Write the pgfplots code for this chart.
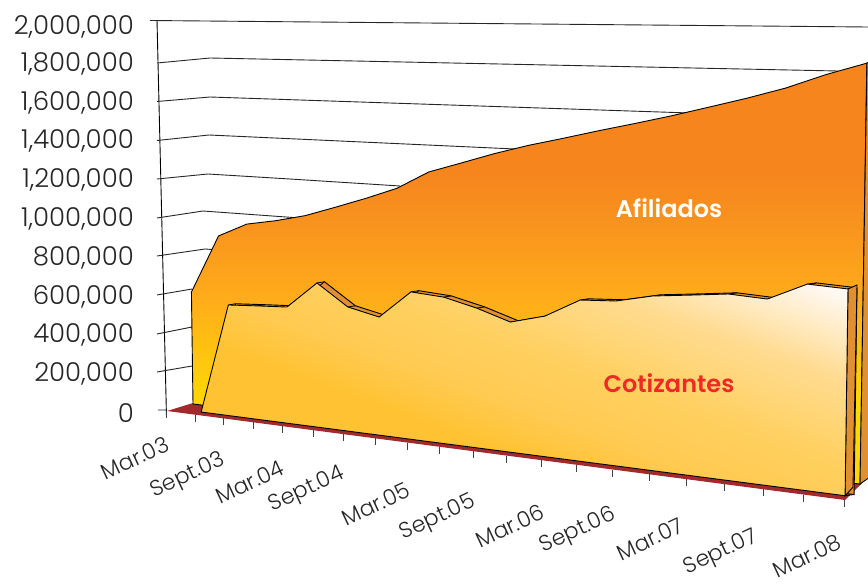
\documentclass[border=0pt]{standalone}
\usepackage{pgfplots}
\pgfplotsset{compat=1.18}
\usepackage{pgfplotstable}
\usepackage{fontspec}
\setmainfont{Poppins}[UprightFont=* Light, BoldFont=* SemiBold]
\definecolor{af1}{HTML}{FFD800}
\definecolor{af2}{HTML}{FFCE0A}
\definecolor{af3}{HTML}{FFA91B}
\definecolor{af4}{HTML}{F8931E}
\definecolor{af5}{HTML}{F6851E}
\definecolor{co1}{HTML}{FFC232}
\definecolor{co2}{HTML}{FFCA50}
\definecolor{co3}{HTML}{FFD060}
\definecolor{co4}{HTML}{FFDB90}
\definecolor{co5}{HTML}{FFF8F0}
\definecolor{strip}{HTML}{E09030}
\definecolor{floorc}{HTML}{A32A2C}
\pgfdeclareverticalshading{afil}{100bp}{color(0bp)=(af1); color(34bp)=(af1); color(37.5bp)=(af2); color(48bp)=(af3); color(56bp)=(af4); color(62bp)=(af5); color(100bp)=(af5)}
\pgfdeclareverticalshading{coti}{100bp}{color(0bp)=(co1); color(40bp)=(co1); color(47bp)=(co2); color(56bp)=(co3); color(68bp)=(co4); color(80bp)=(co5); color(100bp)=(co5)}
% projection of (t = quarters since Mar.03, value) onto the drawing
\newcommand\XT{((26.46*\thisrow{t}+167)/(1-0.00876*\thisrow{t}))}
\newcommand\XA{(\XT+26-0.5*\thisrow{t})}
\newcommand\HA{(\thisrow{v}*(1.91e-4+2.2e-6*\thisrow{t}))}
\newcommand\XC{(\XT+6.26-0.263*\thisrow{t})}
\newcommand\HC{(\thisrow{v}*(1.90e-4+2.75e-6*\thisrow{t}))}
\pgfplotstableread{
t v
0 586000
1 887000
2 955000
3 979000
4 1011000
5 1059000
6 1109000
7 1164000
8 1248000
9 1296000
10 1345000
11 1388000
12 1425000
13 1464000
14 1501000
15 1540000
16 1583000
17 1627000
18 1676000
19 1738000
20 1791000
20 0
0 0
}\afiliados
\pgfplotstableread{
t v
1 0
2 566500
3 573000
4 578500
5 708000
6 601500
7 565000
8 695500
9 682000
10 642500
11 591000
12 630500
13 714000
14 721500
15 755000
16 770500
17 787000
18 778000
19 852000
20 844000
20 0
}\cotizantes
\pgfplotstableread{
t v
0 0
1 0
2 0
3 0
4 0
5 0
6 0
7 0
8 0
9 0
10 0
11 0
12 0
13 0
14 0
15 0
16 0
17 0
18 0
19 0
20 0
}\quarters
\begin{document}
\begin{tikzpicture}
\begin{axis}[
  name=main, at={(140pt,0pt)}, anchor=south west,
  scale only axis, width=728pt, height=583pt,
  xmin=140, xmax=868, ymin=0, ymax=583, y dir=reverse,
  axis line style={draw=none}, tick style={draw=none},
  xtick=\empty,
  ytick={411,372.2,333.4,294.6,255.8,217,178.2,139.4,100.6,61.8,25},
  yticklabels={{0},{200,000},{400,000},{600,000},{800,000},{1,000,000},{1,200,000},{1,400,000},{1,600,000},{1,800,000},{2,000,000}},
  yticklabel style={font=\fontsize{26}{30}\selectfont, text=black!85, anchor=east, inner sep=0pt, xshift=-6pt, yshift=-2pt},
  major tick length=0pt,
  clip mode=individual,
]
% left axis line and wall gridlines
\addplot[black, line width=0.9pt] coordinates {(157,20)(166.5,417)};
\addplot[black!85, line width=0.9pt, unbounded coords=jump] coordinates {
 (150,20.5)(868,27) (nan,nan)
 (157,63)(210,58)(838,71) (nan,nan)
 (157,101.5)(210,97)(690,113) (nan,nan)
 (157,140.5)(209,135)(515,149) (nan,nan)
 (157,179)(208,174)(290,179)(400,186) (nan,nan)
 (157,218)(203,211)(300,218) (nan,nan)
 (157,256)(205,249)(220,250) (nan,nan)
 (157,295)(192,289) (nan,nan)
 (157,334)(192,327) (nan,nan)
 (157,372)(192,366) (nan,nan)
 (158,410)(167,410)
};
% floor
\addplot[fill=floorc, draw=none] coordinates {(167,411)(193,403)(868,472)(868,477)(845,500)} -- cycle;
% x ticks
\addplot[black!75, line width=1pt, quiver={u=0, v=7}] table[x expr={\XT}, y expr={411+0.1313*(\XT-167)}] {\quarters};
% Afiliados
\addplot[draw=black, line width=0.9pt, shading=afil] table[
  x expr={\XA+(-0.014+0.0015*\thisrow{t})*\HA},
  y expr={404+0.12*(\XA-193)-\HA}] {\afiliados} -- cycle;
\addplot[fill=strip, draw=black, line width=0.9pt] coordinates {(867,63)(880,55)(880,470)(860,484)} -- cycle;
% Cotizantes: depth of the band, then the front face
\addplot[fill=strip, draw=black, line width=0.9pt] table[
  x expr={\XC+(-0.014+0.0014*\thisrow{t})*\HC+7+0.1*\thisrow{t}},
  y expr={412+0.13*(\XC-201)-\HC-1.2}] {\cotizantes} -- cycle;
\addplot[black, line width=0.8pt, quiver={u={7+0.1*\thisrow{t}}, v={-1.2}}] table[
  x expr={\XC+(-0.014+0.0014*\thisrow{t})*\HC},
  y expr={412+0.13*(\XC-201)-\HC}] {\cotizantes};
\addplot[fill=strip, draw=black, line width=0.9pt] coordinates {(845,496)(848,289)(857,285)(853,487)} -- cycle;
\addplot[draw=black, line width=0.9pt, shading=coti, shading angle=-20] table[
  x expr={\XC+(-0.014+0.0014*\thisrow{t})*\HC},
  y expr={412+0.13*(\XC-201)-\HC}] {\cotizantes} -- cycle;
% texts
\node[text=white, font=\fontsize{24}{28}\selectfont\bfseries] at (axis cs:669,208) {Afiliados};
\node[text={rgb,255:red,238;green,42;blue,36}, font=\fontsize{24}{28}\selectfont\bfseries] at (axis cs:669,383) {Cotizantes};
\foreach \x/\y/\l in {135/458/Mar.03,188/476/Sept.03,250/482/Mar.04,307/490/Sept.04,376/504/Mar.05,438/518/Sept.05,510/526/Mar.06,578/531/Sept.06,650/539/Mar.07,721/553/Sept.07,807/556/Mar.08}{
  \edef\tmp{\noexpand\node[rotate=25, text=black!85, font=\noexpand\fontsize{22}{26}\noexpand\selectfont] at (axis cs:\x,\y) {\l};}\tmp
}
\end{axis}
\path ([xshift=-140pt]main.south west) rectangle (main.north east);
\end{tikzpicture}
\end{document}
